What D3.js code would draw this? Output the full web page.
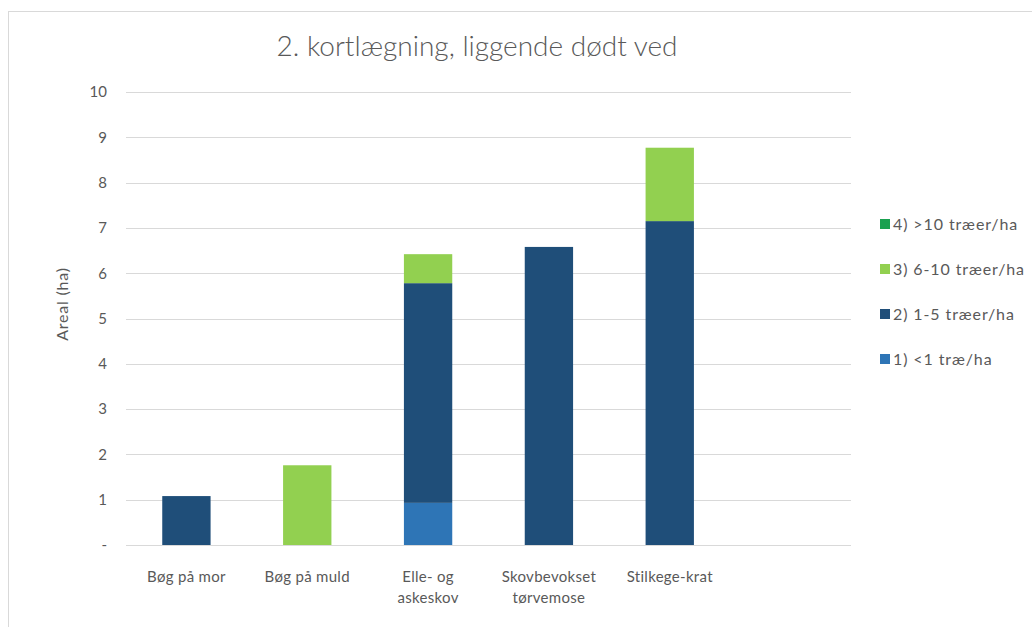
<!DOCTYPE html>
<html>
<head>
<meta charset="utf-8">
<script src="https://cdn.jsdelivr.net/npm/d3@7"></script>
<style>
  body { margin: 0; background: #fff; }
  text { font-family: Lato, "Open Sans", sans-serif; fill: #595959; }
</style>
</head>
<body>
<div id="chart"></div>
<script>
// categories (last slot is empty in the original chart)
const categories = ['Bøg på mor', 'Bøg på muld', 'Elle- og askeskov', 'Skovbevokset tørvemose', 'Stilkege-krat', ''];
const labelLines = [['Bøg på mor'], ['Bøg på muld'], ['Elle- og', 'askeskov'], ['Skovbevokset', 'tørvemose'], ['Stilkege-krat'], []];

const seriesNames = ['1) <1 træ/ha', '2) 1-5 træer/ha', '3) 6-10 træer/ha', '4) >10 træer/ha'];
const seriesColors = ['#2e75b6', '#1f4e79', '#92d050', '#1aa150'];

const s1 = [0, 0, 0.93, 0, 0, 0];
const s2 = [1.08, 0, 4.85, 6.58, 7.15, 0];
const s3 = [0, 1.76, 0.64, 0, 1.62, 0];
const s4 = [0, 0, 0, 0, 0, 0];

const yTicks = [0, 1, 2, 3, 4, 5, 6, 7, 8, 9, 10];
const yTickLabels = ['-', '1', '2', '3', '4', '5', '6', '7', '8', '9', '10'];

const W = 1032, H = 627;
const margin = { top: 92, left: 126, right: 181, bottom: 82 };
const width = W - margin.left - margin.right;
const height = H - margin.top - margin.bottom;

const svg = d3.select('#chart').append('svg')
    .attr('width', W)
    .attr('height', H);

// outer frame
svg.append('rect')
    .attr('x', 8.5).attr('y', 11.5)
    .attr('width', W + 10).attr('height', H + 10)
    .attr('fill', 'none')
    .attr('stroke', '#d9d9d9');

const g = svg.append('g')
    .attr('transform', 'translate(' + margin.left + ',' + margin.top + ')');

const x = d3.scaleBand()
    .domain(d3.range(categories.length))
    .range([0, width])
    .paddingInner(0.6)
    .paddingOuter(0.3);

const y = d3.scaleLinear()
    .domain([0, 10])
    .range([height, 0]);

// gridlines
g.selectAll('.grid')
    .data(yTicks)
    .enter().append('line')
    .attr('x1', 0).attr('x2', width)
    .attr('y1', d => Math.round(y(d)) + 0.5)
    .attr('y2', d => Math.round(y(d)) + 0.5)
    .attr('stroke', '#d9d9d9')
    .attr('stroke-width', 1);

// y axis labels
const yAxis = d3.axisLeft(y)
    .tickValues(yTicks)
    .tickFormat((d, i) => yTickLabels[i])
    .tickSize(0)
    .tickPadding(19);

g.append('g').call(yAxis)
    .call(a => a.select('.domain').remove())
    .selectAll('text')
    .style('font-size', '15px')
    .style('font-family', 'Lato, sans-serif')
    .attr('fill', '#595959');

// stacked bars
const rows = categories.map((c, i) => ({ i: i, s1: s1[i], s2: s2[i], s3: s3[i], s4: s4[i] }));
const stack = d3.stack().keys(['s1', 's2', 's3', 's4']);
const layers = stack(rows);

g.selectAll('.layer')
    .data(layers)
    .enter().append('g')
    .attr('fill', (d, i) => seriesColors[i])
    .selectAll('rect')
    .data(d => d.filter(p => p[1] - p[0] > 0))
    .enter().append('rect')
    .attr('x', d => x(d.data.i))
    .attr('width', x.bandwidth())
    .attr('y', d => y(d[1]))
    .attr('height', d => y(d[0]) - y(d[1]));

// category labels
const catG = g.selectAll('.cat')
    .data(labelLines)
    .enter().append('text')
    .attr('text-anchor', 'middle')
    .attr('x', (d, i) => x(i) + x.bandwidth() / 2)
    .attr('y', height + 37)
    .style('font-size', '15px')
    .style('letter-spacing', '0.3px');

catG.selectAll('tspan')
    .data(d => d)
    .enter().append('tspan')
    .attr('x', function () { return d3.select(this.parentNode).attr('x'); })
    .attr('dy', (d, i) => i === 0 ? 0 : 21)
    .text(d => d);

// y axis title
svg.append('text')
    .attr('transform', 'translate(68,' + 304 + ') rotate(-90)')
    .attr('text-anchor', 'middle')
    .style('font-size', '16px')
    .style('letter-spacing', '0.8px')
    .text('Areal (ha)');

// chart title
svg.append('text')
    .attr('x', 477)
    .attr('y', 56)
    .attr('text-anchor', 'middle')
    .style('font-size', '28px')
    .style('font-weight', '300')
    .text('2. kortlægning, liggende dødt ved');

// legend (reverse order, top is series 4)
const legend = svg.selectAll('.legend')
    .data(seriesNames.map((n, i) => ({ name: n, color: seriesColors[i], i: i })).reverse())
    .enter().append('g')
    .attr('transform', (d, k) => 'translate(880,' + (224 + k * 45) + ')');

legend.append('rect')
    .attr('x', 0).attr('y', -5)
    .attr('width', 10).attr('height', 10)
    .attr('fill', d => d.color);

legend.append('text')
    .attr('x', 13)
    .attr('y', 0)
    .attr('dy', '0.35em')
    .style('font-size', '16px')
    .style('letter-spacing', '0.9px')
    .text(d => d.name);
</script>
</body>
</html>
